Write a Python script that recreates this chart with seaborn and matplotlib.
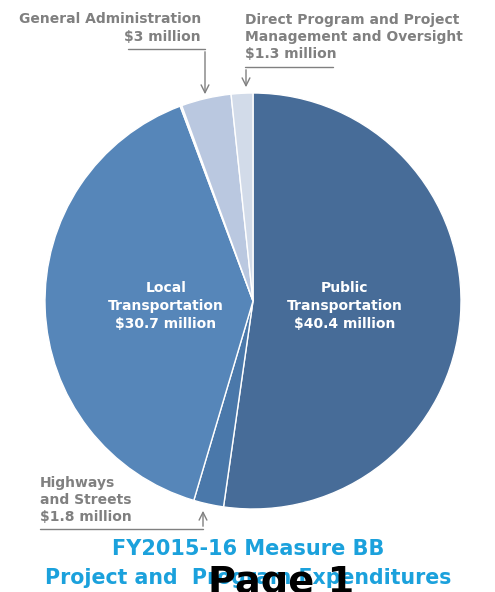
import matplotlib
matplotlib.use("Agg")
import matplotlib.pyplot as plt
import seaborn as sns

sns.set_theme(style="white")
plt.rcParams['font.family'] = ['DejaVu Sans']

categories = ["Public Transportation", "Highways and Streets", "Local Transportation",
              "Other", "General Administration", "Direct Program and Project Management and Oversight"]
values = [40.4, 1.8, 30.7, 0.1, 3.0, 1.3]
colors = ["#476c98", "#4a78aa", "#5686b9", "#e6ebf3", "#bac8e0", "#d2dbe9"]

W, H = 495, 592
fig = plt.figure(figsize=(W / 100, H / 100), dpi=100)
ax = fig.add_axes([0, 0, 1, 1])

def Y(y):
    return H - y

ax.pie(values, colors=colors, startangle=90, counterclock=False,
       center=(253, Y(301)), radius=208, frame=True,
       wedgeprops=dict(edgecolor="white", linewidth=1.0))
ax.set_xlim(0, W)
ax.set_ylim(0, H)
ax.set_aspect("equal")
ax.axis("off")

white = dict(color="white", fontweight="bold", fontsize=10, ha="center", va="center", linespacing=1.35)
ax.text(345, Y(306), "Public\nTransportation\n$40.4 million", **white)
ax.text(166, Y(306), "Local\nTransportation\n$30.7 million", **white)

gray = "#808080"
lab = dict(color=gray, fontweight="bold", fontsize=10, linespacing=1.3)
ax.text(201, Y(28), "General Administration\n$3 million", ha="right", va="center", **lab)
ax.text(245, Y(37), "Direct Program and Project\nManagement and Oversight\n$1.3 million", ha="left", va="center", **lab)
ax.text(40, Y(500), "Highways\nand Streets\n$1.8 million", ha="left", va="center", **lab)

arrow = dict(arrowstyle="->", color=gray, lw=1.0, mutation_scale=14)
# General Administration
ax.plot([128, 205], [Y(49), Y(49)], color=gray, lw=1.0)
ax.annotate("", xy=(205, Y(97)), xytext=(205, Y(49)), arrowprops=arrow)
# Direct program
ax.plot([245, 333], [Y(67), Y(67)], color=gray, lw=1.0)
ax.annotate("", xy=(246, Y(90)), xytext=(246, Y(67)), arrowprops=arrow)
# Highways
ax.plot([40, 203], [Y(529), Y(529)], color=gray, lw=1.0)
ax.annotate("", xy=(203, Y(508)), xytext=(203, Y(529)), arrowprops=arrow)

blue = "#1ba1dc"
ax.text(248, Y(549), "FY2015-16 Measure BB", color=blue, fontweight="bold", fontsize=15, ha="center", va="center")
ax.text(248, Y(578), "Project and  Program Expenditures", color=blue, fontweight="bold", fontsize=14.8, ha="center", va="center")
ax.text(281, Y(583), "Page 1", color="black", fontweight="bold", fontsize=27.5, ha="center", va="center")

fig.savefig("out.png", dpi=100)
